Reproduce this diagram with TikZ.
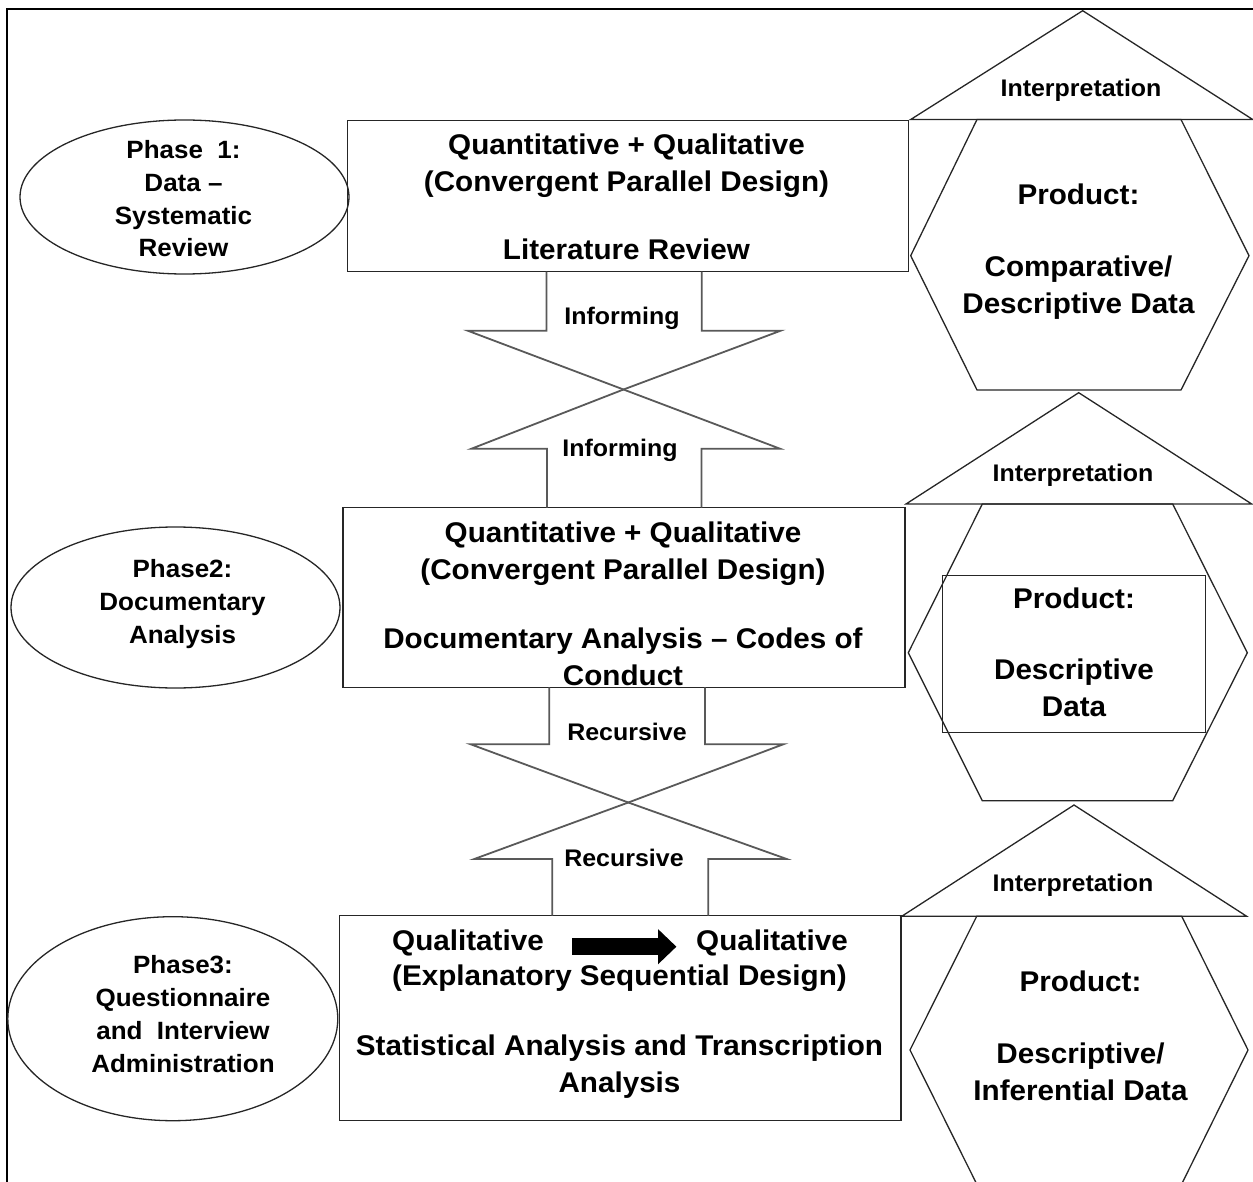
\documentclass[tikz,border=0pt]{standalone}
\usepackage{fontspec}
\setmainfont{Liberation Sans}[FakeStretch=1.04]
\usetikzlibrary{shapes.geometric,arrows.meta}
\newcommand\fbig{\fontsize{28.5}{36.7}\selectfont\bfseries}
\newcommand\fsml{\fontsize{24}{30}\selectfont\bfseries}
\newcommand\fell{\fontsize{25}{32.7}\selectfont\bfseries}
\begin{document}
\begin{tikzpicture}[x=1pt,y=-1pt,
  shp/.style={draw=black!85,line width=1.3pt},
  blockarrow/.style={draw=black!65,line width=1.8pt,line join=miter},
  phase/.style={shp,ellipse,inner sep=0pt},
  stagebox/.style={shp,rectangle,inner sep=0pt},
  txt/.style={align=center,inner sep=0pt,anchor=base},
  bigtxt/.style={txt,font=\fbig},
  smltxt/.style={txt,font=\fsml},
  elltxt/.style={txt,font=\fell}]
\useasboundingbox (0,0) rectangle (1253,1182);
% outer frame (cropped at right and bottom)
\draw[line width=2.2pt] (7,1200) -- (7,9) -- (1270,9);

% phase ellipses (text anchored at baseline of last line)
\node[phase,minimum width=329pt,minimum height=154pt] (e1) at (184.5,197) {};
\node[phase,minimum width=329pt,minimum height=161pt] (e2) at (175.5,607.5) {};
\node[phase,minimum width=330pt,minimum height=204pt] (e3) at (172.8,1018.7) {};
\node[elltxt] (e1t) at (183.5,257) {Phase\ \ 1:\\Data --\\Systematic\\Review};
\node[elltxt] (e2t) at (182.5,643) {Phase2:\\Documentary\\Analysis};
\node[elltxt] (e3t) at (183,1072) {Phase3:\\Questionnaire\\and\ \ Interview\\Administration};

% stage boxes
\node[stagebox,minimum width=561pt,minimum height=151pt] (b1) at (627.8,196.2) {};
\node[stagebox,minimum width=562pt,minimum height=179.6pt] (b2) at (624,597.5) {};
\node[stagebox,minimum width=561.7pt,minimum height=205pt] (b3) at (620,1018.2) {};
\node[bigtxt] (b1t) at (626.5,260) {Quantitative + Qualitative\\(Convergent Parallel Design)\\[31.6pt]Literature Review};
\node[bigtxt] (b2t) at (623,685) {Quantitative + Qualitative\\(Convergent Parallel Design)\\[32.3pt]Documentary Analysis -- Codes of\\Conduct};
\node[bigtxt] (q1) at (468,950) {Qualitative};
\node[bigtxt] (q2) at (772,950) {Qualitative};
\draw[line width=17pt,-{Triangle[length=18.4pt,width=34pt]}]
  ([xshift=28.5pt,yshift=3.3pt]q1.base east) -- ([xshift=-19.6pt,yshift=3.3pt]q2.base west);
\node[bigtxt] (b3t) at (619.5,1092) {(Explanatory Sequential Design)\\[33.3pt]Statistical Analysis and Transcription\\Analysis};

% block arrows between phase 1 and phase 2
\draw[blockarrow] (546.5,271.7) -- (546.5,330.7) -- (467.7,330.7) -- (623.5,389.5) -- (780.7,330.7) -- (701.7,330.7) -- (701.7,271.7);
\draw[blockarrow] (547,507.7) -- (547,448.7) -- (471.5,448.7) -- (623.5,389.5) -- (780,448.7) -- (701.5,448.7) -- (701.5,507.7);
\node[smltxt] (i1) at (622,324.6) {Informing};
\node[smltxt] (i2) at (620,456.6) {Informing};
% block arrows between phase 2 and phase 3
\draw[blockarrow] (549.3,687.3) -- (549.3,744.3) -- (470.7,744.3) -- (628.3,802.5) -- (783.3,744.3) -- (705,744.3) -- (705,687.3);
\draw[blockarrow] (552.3,915.7) -- (552.3,859) -- (474.3,859) -- (628.3,802.5) -- (786.7,859) -- (708.3,859) -- (708.3,915.7);
\node[smltxt] (r1) at (627,740.6) {Recursive};
\node[smltxt] (r2) at (624,866.6) {Recursive};

% interpretation triangles and product hexagons
\draw[shp] (910.7,119.5) -- (1082.7,10.7) -- (1252.7,119.5) -- cycle;
\draw[shp] (977,119.5) -- (1181,119.5) -- (1249,255.7) -- (1181,390) -- (977,390) -- (910.7,255.7) -- cycle;
\node[smltxt] (p1i) at (1081,96.6) {Interpretation};
\node[bigtxt] (p1t) at (1078.5,313) {Product:\\[34.6pt]Comparative/\\Descriptive Data};

\draw[shp] (906,504) -- (1078.7,392.7) -- (1251.7,504) -- cycle;
\draw[shp] (982.3,504) -- (1172.7,504) -- (1247.3,652.7) -- (1172.7,800.7) -- (982.3,800.7) -- (908.3,652.7) -- cycle;
\node[stagebox,minimum width=262.6pt,minimum height=157pt] (p2box) at (1074,654.2) {};
\node[smltxt] (p2i) at (1073,481.6) {Interpretation};
\node[bigtxt] (p2t) at (1074,716) {Product:\\[34.6pt]Descriptive\\Data};

\draw[shp] (901.7,916.3) -- (1074,805) -- (1246.7,916.3) -- cycle;
\draw[shp] (976.7,916.3) -- (1181.7,916.3) -- (1248,1050) -- (1181.7,1184) -- (976.7,1184) -- (910,1050) -- cycle;
\node[smltxt] (p3i) at (1073,891.6) {Interpretation};
\node[bigtxt] (p3t) at (1080.5,1100) {Product:\\[35pt]Descriptive/\\Inferential Data};
\end{tikzpicture}
\end{document}
